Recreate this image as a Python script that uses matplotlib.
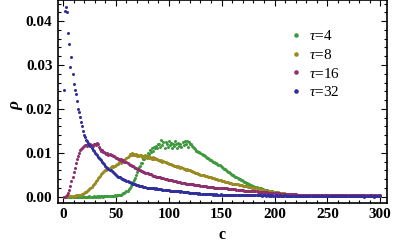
import numpy as np
import matplotlib
matplotlib.use("Agg")
import matplotlib.pyplot as plt
from matplotlib.ticker import MultipleLocator

# density values in units of 1e-4, c = 1..300
tau32 = [244, 424, 432, 420, 374, 349, 296, 318, 280, 257,
         242, 234, 217, 200, 193, 182, 170, 162, 150, 140,
         136, 130, 127, 122, 118, 115, 110, 106, 104, 100,
         97, 95, 91, 89, 86, 83, 80, 76, 74, 70,
         68, 66, 64, 62, 60, 58, 56, 53, 51, 49,
         48, 46, 45, 44, 42, 41, 40, 39, 38, 36,
         35, 34, 33, 31, 31, 30, 29, 29, 27, 27,
         26, 25, 25, 24, 24, 23, 22, 22, 21, 21,
         20, 21, 20, 19, 19, 19, 18, 19, 18, 18,
         17, 17, 17, 16, 16, 16, 15, 15, 15, 15,
         14, 14, 14, 13, 14, 13, 13, 12, 12, 12,
         11, 12, 11, 11, 10, 10, 10, 10, 9, 9,
         9, 9, 8, 8, 8, 8, 8, 7, 8, 7,
         7, 7, 6, 7, 6, 6, 7, 6, 6, 6,
         6, 5, 6, 5, 6, 5, 5, 5, 6, 5,
         5, 5, 4, 5, 5, 4, 5, 4, 4, 5,
         4, 4, 4, 5, 4, 4, 3, 4, 4, 4,
         4, 3, 4, 3, 4, 3, 3, 4, 3, 3,
         3, 3, 4, 3, 3, 3, 3, 2, 3, 3,
         3, 2, 3, 3, 2, 3, 2, 3, 2, 2,
         3, 2, 2, 2, 3, 2, 2, 2, 2, 3,
         2, 2, 2, 2, 2, 1, 2, 2, 2, 2,
         2, 1, 2, 2, 1, 2, 2, 1, 2, 1,
         2, 1, 1, 2, 1, 2, 1, 1, 2, 1,
         1, 1, 2, 1, 1, 1, 1, 2, 1, 1,
         1, 1, 1, 1, 2, 1, 1, 1, 1, 1,
         1, 1, 1, 1, 1, 1, 2, 1, 1, 1,
         1, 1, 1, 1, 1, 1, 1, 1, 1, 1,
         1, 1, 1, 1, 0, 1, 1, 1, 1, 1,
         1, 1, 1, 0, 1, 1, 1, 1, 1, 1]

tau16 = [0, 0, 1, 3, 8, 16, 25, 35, 46, 57,
         66, 76, 86, 93, 100, 106, 109, 112, 114, 116,
         117, 118, 116, 119, 117, 120, 117, 115, 119, 121,
         118, 122, 120, 114, 108, 105, 106, 101, 103, 99,
         98, 100, 96, 97, 94, 95, 92, 93, 90, 88,
         89, 86, 87, 84, 85, 82, 83, 80, 79, 78,
         76, 75, 73, 72, 70, 69, 67, 66, 65, 64,
         63, 61, 61, 59, 58, 57, 56, 55, 54, 53,
         52, 51, 51, 49, 48, 48, 47, 46, 46, 45,
         44, 44, 43, 43, 42, 41, 41, 40, 39, 38,
         38, 37, 37, 36, 36, 35, 35, 34, 34, 33,
         33, 32, 32, 31, 31, 30, 30, 30, 29, 29,
         28, 28, 28, 27, 27, 27, 26, 26, 26, 25,
         25, 25, 24, 24, 24, 23, 23, 23, 22, 22,
         22, 22, 21, 21, 21, 21, 20, 20, 20, 20,
         20, 19, 19, 19, 19, 18, 18, 18, 18, 18,
         17, 17, 17, 16, 16, 16, 15, 15, 15, 15,
         14, 14, 14, 14, 13, 13, 13, 13, 12, 12,
         12, 12, 12, 11, 11, 11, 11, 11, 10, 10,
         10, 10, 10, 9, 9, 9, 9, 9, 8, 8,
         8, 8, 8, 8, 7, 7, 7, 7, 7, 7,
         7, 6, 6, 6, 6, 6, 6, 6, 6, 6,
         5, 5, 5, 5, 5, 5, 5, 5, 5, 5,
         5, 5, 4, 5, 4, 4, 4, 5, 4, 4,
         4, 4, 4, 4, 4, 4, 4, 4, 4, 4,
         4, 4, 4, 3, 4, 4, 3, 4, 3, 3,
         3, 4, 3, 3, 3, 3, 3, 3, 3, 3,
         3, 3, 3, 3, 3, 3, 3, 3, 3, 3,
         3, 3, 3, 3, 3, 3, 3, 2, 3, 3,
         3, 3, 2, 3, 3, 3, 2, 3, 3, 3]

tau8 = [0, 0, 0, 1, 1, 1, 1, 2, 2, 2,
        2, 3, 3, 3, 4, 4, 5, 6, 7, 8,
        10, 11, 13, 15, 17, 20, 23, 26, 29, 32,
        35, 38, 42, 45, 48, 51, 54, 56, 58, 60,
        62, 63, 65, 64, 67, 69, 68, 71, 70, 72,
        75, 74, 78, 79, 77, 82, 84, 83, 87, 88,
        91, 93, 97, 95, 99, 96, 98, 94, 97, 93,
        96, 92, 95, 94, 91, 93, 90, 94, 89, 92,
        88, 91, 89, 87, 90, 86, 88, 85, 87, 84,
        84, 82, 83, 80, 81, 78, 79, 77, 76, 75,
        74, 74, 72, 73, 71, 70, 70, 68, 69, 67,
        66, 67, 65, 64, 64, 62, 63, 61, 60, 60,
        58, 58, 56, 57, 55, 53, 54, 52, 51, 50,
        50, 49, 49, 48, 47, 47, 46, 45, 45, 44,
        43, 43, 42, 41, 41, 40, 39, 38, 37, 36,
        36, 35, 34, 34, 33, 33, 32, 31, 31, 30,
        30, 29, 29, 28, 28, 27, 27, 26, 26, 25,
        25, 25, 24, 24, 23, 23, 23, 22, 21, 21,
        20, 20, 19, 18, 18, 17, 17, 16, 16, 15,
        15, 14, 13, 13, 12, 12, 11, 11, 11, 10,
        10, 10, 9, 9, 9, 8, 8, 8, 8, 7,
        7, 7, 7, 6, 6, 6, 6, 6, 5, 5,
        5, 5, 5, 5, 5, 4, 4, 4, 4, 4,
        4, 4, 4, 4, 3, 4, 3, 3, 3, 3,
        3, 3, 3, 3, 3, 3, 2, 3, 3, 3,
        3, 2, 3, 3, 2, 3, 3, 2, 3, 2,
        3, 2, 2, 3, 2, 2, 3, 2, 2, 2,
        2, 2, 3, 2, 2, 2, 2, 2, 2, 2,
        2, 2, 2, 2, 2, 2, 2, 2, 2, 2,
        2, 2, 2, 2, 2, 1, 2, 2, 2, 2]

tau4 = [0, 0, 0, 0, 0, 0, 0, 0, 0, 0,
        0, 0, 0, 0, 0, 0, 0, 0, 0, 0,
        0, 0, 0, 0, 1, 0, 0, 0, 1, 0,
        0, 1, 0, 1, 0, 1, 1, 0, 1, 1,
        1, 1, 1, 2, 1, 2, 2, 2, 3, 2,
        3, 4, 4, 5, 5, 6, 8, 9, 10, 12,
        14, 17, 21, 25, 29, 33, 38, 43, 49, 56,
        61, 68, 69, 76, 77, 86, 85, 93, 92, 100,
        98, 106, 101, 110, 105, 113, 110, 115, 112, 119,
        119, 114, 130, 118, 125, 112, 124, 121, 113, 126,
        117, 123, 111, 120, 115, 127, 119, 112, 122, 116,
        121, 113, 124, 117, 126, 119, 128, 114, 125, 120,
        119, 116, 114, 112, 109, 105, 104, 103, 101, 99,
        98, 96, 94, 93, 91, 89, 88, 86, 84, 83,
        82, 80, 79, 77, 76, 74, 73, 72, 70, 68,
        66, 64, 63, 61, 59, 57, 56, 54, 52, 50,
        49, 47, 46, 44, 43, 41, 40, 38, 37, 35,
        34, 33, 32, 31, 29, 28, 27, 26, 25, 24,
        23, 22, 22, 21, 20, 19, 19, 18, 17, 16,
        16, 15, 15, 14, 13, 13, 12, 12, 11, 11,
        10, 10, 10, 9, 9, 9, 8, 8, 8, 7,
        7, 7, 7, 6, 6, 6, 6, 5, 5, 5,
        5, 5, 5, 4, 4, 4, 4, 4, 4, 4,
        3, 4, 3, 3, 3, 3, 3, 3, 3, 3,
        3, 3, 3, 2, 3, 3, 3, 2, 3, 3,
        2, 3, 2, 3, 2, 2, 3, 2, 2, 2,
        2, 2, 2, 3, 2, 2, 2, 2, 2, 2,
        2, 2, 2, 2, 2, 2, 2, 2, 2, 2,
        2, 2, 1, 2, 2, 2, 2, 2, 2, 2,
        2, 2, 2, 1, 2, 2, 2, 2, 2, 2]

c = np.arange(1, 301)
series = [("$\\tau$=4", tau4, "#3f9a3f"),
          ("$\\tau$=8", tau8, "#9a8a22"),
          ("$\\tau$=16", tau16, "#8e2f6e"),
          ("$\\tau$=32", tau32, "#302f9c")]

plt.rcParams["font.family"] = ["Liberation Serif", "DejaVu Serif"]
plt.rcParams["font.weight"] = "bold"
plt.rcParams["mathtext.fontset"] = "custom"
plt.rcParams["mathtext.rm"] = "Liberation Serif:normal"
plt.rcParams["mathtext.it"] = "Liberation Serif:italic:normal"

fig = plt.figure(figsize=(3.99, 2.49), dpi=100)
ax = fig.add_axes([0.1454, 0.1835, 0.8236, 0.8145])

for label, vals, col in series:
    ax.plot(c, np.array(vals) * 1e-4, "o", ms=2.2, mew=0, color=col, label=label)

ax.set_xlim(-4.7, 306)
ax.set_ylim(-0.0015, 0.0447)
ax.xaxis.set_major_locator(MultipleLocator(50))
ax.xaxis.set_minor_locator(MultipleLocator(10))
ax.yaxis.set_major_locator(MultipleLocator(0.01))
ax.yaxis.set_minor_locator(MultipleLocator(0.002))
ax.yaxis.set_major_formatter(plt.FuncFormatter(lambda v, p: "%.2f" % v))

ax.tick_params(which="both", direction="in", top=True, right=True, width=0.8)
ax.tick_params(which="major", length=4, labelsize=11)
ax.tick_params(axis="y", which="major", pad=4)
ax.tick_params(axis="x", which="major", pad=3.5)
ax.tick_params(which="minor", length=2)
for s in ax.spines.values():
    s.set_linewidth(1.2)

ax.set_xlabel("c", fontsize=11.5, fontweight="bold")
ax.xaxis.set_label_coords(0.5, -0.115)
ax.set_ylabel("ρ", fontsize=12.5, fontweight="bold", style="italic", rotation=90)
ax.yaxis.set_label_coords(-0.105, 0.48)

ax.legend(loc="upper left", bbox_to_anchor=(0.688, 0.895), frameon=False,
          prop={"family": "Liberation Serif", "weight": "normal", "size": 11},
          handlelength=0.6, handletextpad=0.5, labelspacing=0.3,
          markerscale=1.5, borderpad=0)

fig.savefig("out.png", dpi=100)
